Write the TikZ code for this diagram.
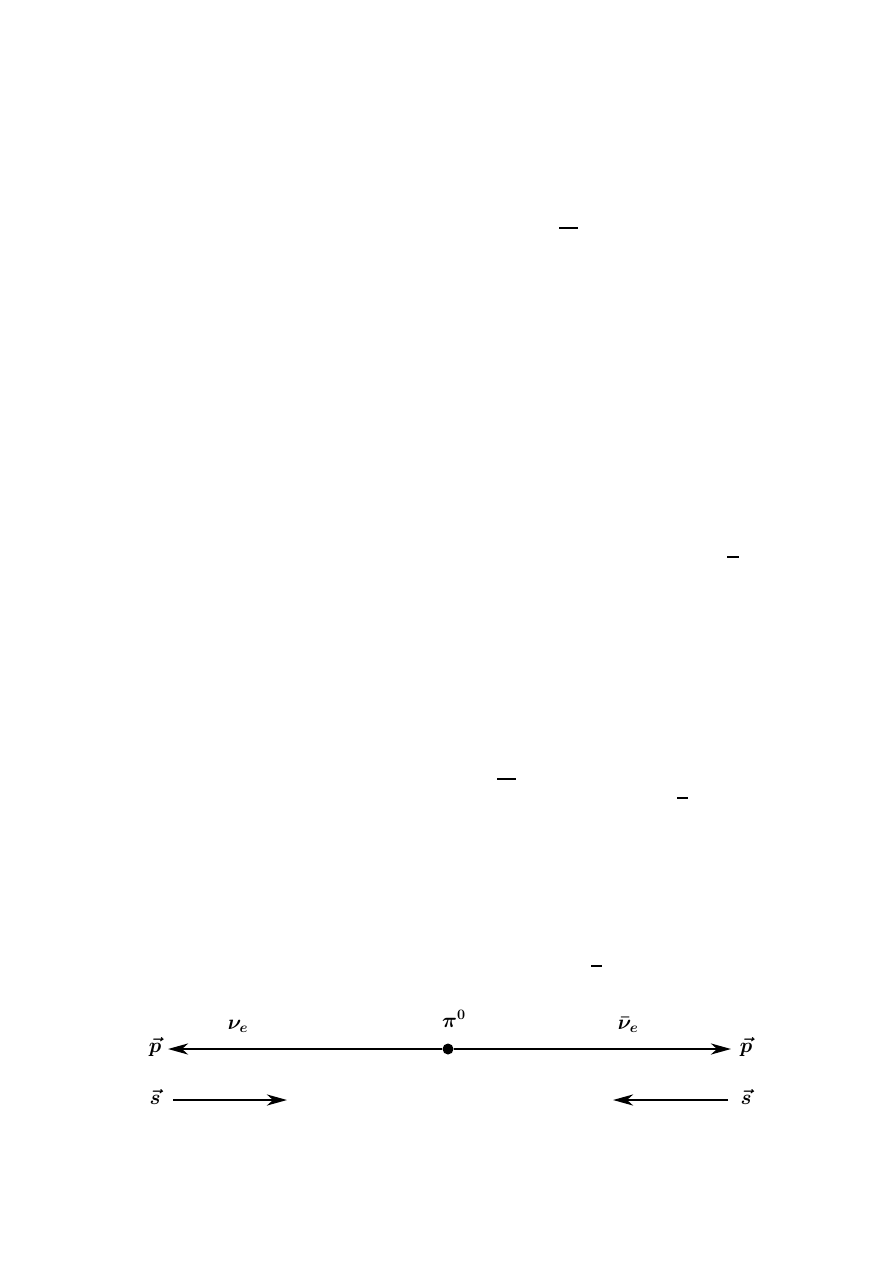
\documentclass[tikz,border=0pt]{standalone}
\usetikzlibrary{arrows.meta}
\begin{document}
\begin{tikzpicture}[x=1pt,y=-1pt,
  line/.style={line width=2.6pt},
  arr/.style={line width=2.6pt,-{Stealth[length=20pt,width=11pt,inset=6pt]}},
  bar/.style={line width=2pt},
  lbl/.style={inner sep=0pt,font=\fontsize{22}{26}\selectfont\boldmath},
  dotn/.style={circle,fill=black,minimum size=11pt,inner sep=0pt}]
\useasboundingbox (0,0) rectangle (893,1263);
% stray bars
\draw[bar] (559,228) -- (578,228);
\draw[bar] (727,557) -- (739,557);
\draw[bar] (497,779) -- (516,779);
\draw[bar] (677,798) -- (688,798);
\draw[bar] (591,966) -- (602,966);
% main line
\node[dotn] (pi) at (448,1049) {};
\coordinate (lend) at (168,1049);
\coordinate (rend) at (731,1049);
\draw[arr] (pi) -- (lend);
\draw[arr] (pi) -- (rend);
% spin arrows
\coordinate (s1a) at (173,1100);
\coordinate (s1b) at (287,1100);
\coordinate (s2a) at (728,1100);
\coordinate (s2b) at (613,1100);
\draw[arr] (s1a) -- (s1b);
\draw[arr] (s2a) -- (s2b);
% labels
\node[lbl] (pl) at (155,1047) {$\vec{p}$};
\node[lbl] (pr) at (746,1047) {$\vec{p}$};
\node[lbl] (sl) at (155,1097) {$\vec{s}$};
\node[lbl] (sr) at (746,1097) {$\vec{s}$};
\node[lbl] (nu) at (238,1026) {$\nu_e$};
\node[lbl] (pz) at (454,1019) {$\pi^0$};
\node[lbl] (nub) at (628,1025) {$\bar{\nu}_e$};
\end{tikzpicture}
\end{document}
